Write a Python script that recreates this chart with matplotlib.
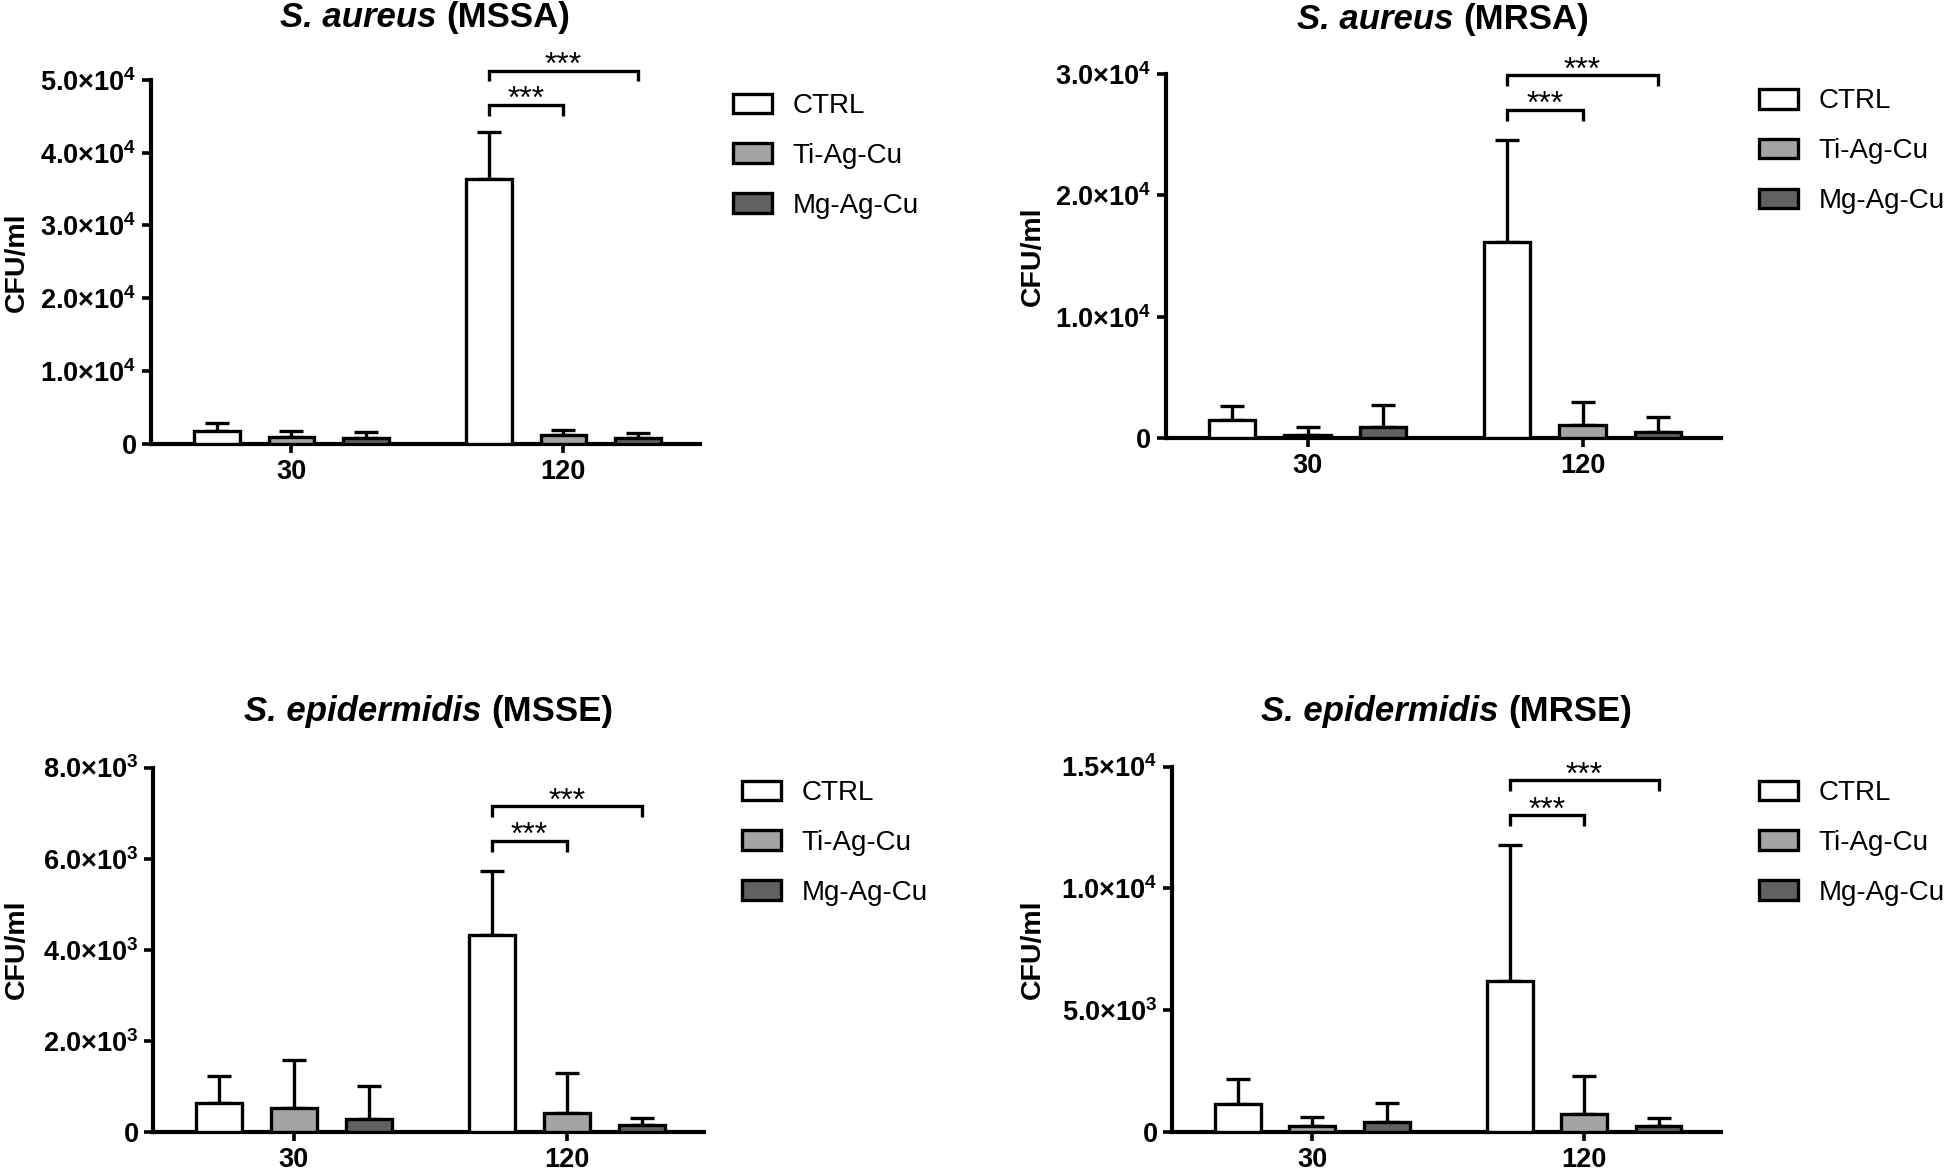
import matplotlib
matplotlib.use("Agg")
import matplotlib.pyplot as plt
import numpy as np

plt.rcParams['font.family'] = ['Liberation Sans', 'DejaVu Sans']

groups = ['30', '120']
series = ['CTRL', 'Ti-Ag-Cu', 'Mg-Ag-Cu']
fills = ['white', '#a4a4a4', '#616161']

# rows follow series order, columns follow groups (30, 120)
mssa_mean = [[1750, 36400], [930, 1190], [770, 720]]
mssa_err = [[1050, 6500], [770, 710], [880, 720]]
mssa_ticks = [0, 1e4, 2e4, 3e4, 4e4, 5e4]
mssa_labels = ['0', r'$\mathregular{1.0×10^{4}}$', r'$\mathregular{2.0×10^{4}}$',
               r'$\mathregular{3.0×10^{4}}$', r'$\mathregular{4.0×10^{4}}$', r'$\mathregular{5.0×10^{4}}$']
mssa_brackets = [46600, 51300]

mrsa_mean = [[1480, 16160], [250, 1080], [930, 490]]
mrsa_err = [[1180, 8440], [620, 1850], [1790, 1210]]
mrsa_ticks = [0, 1e4, 2e4, 3e4]
mrsa_labels = ['0', r'$\mathregular{1.0×10^{4}}$', r'$\mathregular{2.0×10^{4}}$', r'$\mathregular{3.0×10^{4}}$']
mrsa_brackets = [27060, 29900]

msse_mean = [[634, 4325], [519, 420], [280, 140]]
msse_err = [[585, 1400], [1055, 882], [725, 173]]
msse_ticks = [0, 2e3, 4e3, 6e3, 8e3]
msse_labels = ['0', r'$\mathregular{2.0×10^{3}}$', r'$\mathregular{4.0×10^{3}}$',
               r'$\mathregular{6.0×10^{3}}$', r'$\mathregular{8.0×10^{3}}$']
msse_brackets = [6390, 7150]

mrse_mean = [[1155, 6190], [231, 739], [400, 231]]
mrse_err = [[1016, 5606], [385, 1540], [770, 323]]
mrse_ticks = [0, 5e3, 1e4, 1.5e4]
mrse_labels = ['0', r'$\mathregular{5.0×10^{3}}$', r'$\mathregular{1.0×10^{4}}$', r'$\mathregular{1.5×10^{4}}$']
mrse_brackets = [13010, 14440]

W, H = 1949, 1170
fig = plt.figure(figsize=(W / 100, H / 100), dpi=100)
renderer = fig.canvas.get_renderer()

offsets = [-0.2737, 0, 0.2737]
bar_w = 0.168
LW = 2.4


def px(x, y):
    return x / W, 1 - y / H


def panel(rect, name_it, name_rm, means, errs, ticks, labels, brackets, title_y, label_x, legend_xy):
    left, top, right, bottom = rect
    x0, y1 = px(left, top)
    x1, y0 = px(right, bottom)
    ax = fig.add_axes([x0, y0, x1 - x0, y1 - y0])
    x = np.arange(len(groups))
    for i, name in enumerate(series):
        pos = x + offsets[i]
        ax.errorbar(pos, means[i], yerr=[np.zeros(len(groups)), errs[i]], fmt='none',
                    ecolor='black', elinewidth=LW, capsize=8.7, capthick=LW, zorder=2)
        ax.bar(pos, means[i], width=bar_w, color=fills[i], edgecolor='black',
               linewidth=LW, label=name, zorder=3)

    ymax = ticks[-1]
    ax.set_ylim(0, ymax)
    ax.set_xlim(-0.516, 1.502)
    ax.set_yticks(ticks, labels, fontsize=19.5, fontweight='bold')
    ax.set_xticks(x, groups, fontsize=19.5, fontweight='bold')
    ax.tick_params(axis='both', width=2.6, length=6.8, direction='out')
    ax.tick_params(axis='y', pad=3.5)
    ax.tick_params(axis='x', pad=4.3)
    for s in ['top', 'right']:
        ax.spines[s].set_visible(False)
    for s in ['left', 'bottom']:
        ax.spines[s].set_linewidth(3)

    # significance brackets: CTRL vs Ti-Ag-Cu, CTRL vs Mg-Ag-Cu at 120
    drop = 0.03 * ymax
    for k, yb in enumerate(brackets):
        xa = 1 + offsets[0]
        xb = 1 + offsets[k + 1]
        ax.plot([xa, xa, xb, xb], [yb - drop, yb, yb, yb - drop], color='black', lw=LW,
                clip_on=False, solid_joinstyle='miter', solid_capstyle='butt')
        ax.annotate('***', ((xa + xb) / 2, yb), xytext=(0, -2.5), textcoords='offset points',
                    ha='center', va='baseline', fontsize=23, annotation_clip=False)

    # title: italic species + bold strain
    fs = 25
    ty = 1 - title_y / H
    t1 = fig.text(0, ty, name_it, fontsize=fs, fontweight='bold', fontstyle='italic', va='baseline')
    t2 = fig.text(0, ty, name_rm, fontsize=fs, fontweight='bold', va='baseline')
    w1 = t1.get_window_extent(renderer).width
    w2 = t2.get_window_extent(renderer).width
    gap = 0.278 * fs * 100 / 72
    cx = (left + right) / 2
    start = cx - (w1 + gap + w2) / 2
    t1.set_x(start / W)
    t2.set_x((start + w1 + gap) / W)

    fig.text(label_x / W, 1 - (top + bottom) / 2 / H, 'CFU/ml', rotation=90, ha='center',
             va='center', fontsize=20.5, fontweight='bold')

    lx, ly = px(*legend_xy)
    ax.legend(loc='upper left', bbox_to_anchor=(lx, ly), bbox_transform=fig.transFigure,
              frameon=False, fontsize=20, handlelength=1.4, handleheight=0.7,
              handletextpad=0.75, labelspacing=0.86, borderpad=0, borderaxespad=0)
    return ax


panel((151, 80, 700, 443.6), 'S. aureus', '(MSSA)', mssa_mean, mssa_err, mssa_ticks,
      mssa_labels, mssa_brackets, 27, 17, (733, 93))
panel((1165.6, 74, 1720.6, 438), 'S. aureus', '(MRSA)', mrsa_mean, mrsa_err, mrsa_ticks,
      mrsa_labels, mrsa_brackets, 29, 1033, (1759, 88.5))
panel((153, 767.6, 704, 1131.8), 'S. epidermidis', '(MSSE)', msse_mean, msse_err, msse_ticks,
      msse_labels, msse_brackets, 721, 17, (742, 780))
panel((1172, 766.5, 1720.6, 1131.8), 'S. epidermidis', '(MRSE)', mrse_mean, mrse_err, mrse_ticks,
      mrse_labels, mrse_brackets, 721, 1033, (1759, 780))

fig.savefig('out.png', dpi=100, facecolor='white')
